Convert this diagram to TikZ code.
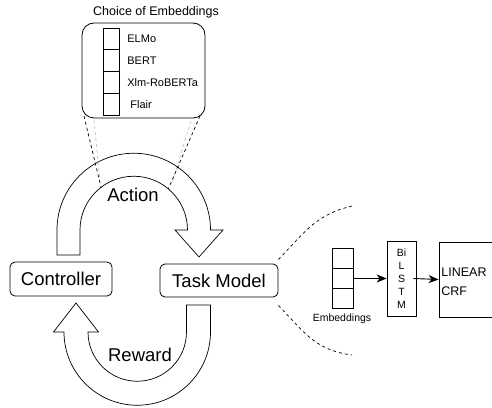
\documentclass[tikz,border=0pt]{standalone}
\usepackage{fontspec}
\setmainfont{Liberation Sans}
\usetikzlibrary{arrows.meta,calc}
\begin{document}
\begin{tikzpicture}[x=1pt,y=1pt,line width=0.8pt,
  bigtext/.style={font=\fontsize{18.5}{22}\selectfont},
  midtext/.style={font=\fontsize{12.5}{15}\selectfont},
  smalltext/.style={font=\fontsize{10.5}{13}\selectfont},
  choicetext/.style={font=\fontsize{11}{13}\selectfont, anchor=west, inner sep=0pt},
  roundbox/.style={draw, rounded corners=5pt, inner sep=0pt, bigtext},
  embcell/.style={draw, minimum width=16pt, minimum height=21.75pt, inner sep=0pt},
  stackcell/.style={draw, minimum width=21pt, minimum height=20pt, inner sep=0pt},
  zoomline/.style={dashed, dash pattern=on 3pt off 3pt},
  greyline/.style={zoomline, draw=black!25},
  bigarrow/.style={draw, fill=white, line width=0.7pt},
  flowarrow/.style={-{Stealth[length=10pt,width=8pt,inset=3pt]}, line width=0.9pt}
]
\useasboundingbox (0,0) rectangle (492,407);
\clip (0,0) rectangle (492,407);

% --- choice of embeddings panel ---
\node[midtext] (title) at (156,395) {Choice of Embeddings};
\node[draw, rounded corners=12pt, minimum width=123pt, minimum height=95pt, inner sep=0pt]
  (choices) at (143.5,336.5) {};
\node[embcell] (c1) at (111,368.125) {};
\node[embcell] (c2) at (111,346.375) {};
\node[embcell] (c3) at (111,324.625) {};
\node[embcell] (c4) at (111,302.875) {};
\node[choicetext] (elmo) at (127,368.1) {ELMo};
\node[choicetext] (bert) at (127,346.4) {BERT};
\node[choicetext] (xlmr) at (127,324.6) {Xlm-RoBERTa};
\node[choicetext] (flair) at (130,302.9) {Flair};

% --- action arrow (controller -> task model) ---
\coordinate (actc) at (133.75,177);
\path[bigarrow] (57,152) -- (57,177) arc[start angle=180, end angle=0, radius=76.75]
  -- (223,177) -- (199,150) -- (175,177) -- (187.5,177)
  arc[start angle=0, end angle=180, radius=53.75] -- (80,152) -- cycle;
\node[bigtext] (action) at (133,212) {Action};

% dashed guides from the panel down to the action arrow
\coordinate (al) at ($(actc)+(127.5:53.75)$);
\coordinate (ar) at ($(actc)+(50:53.75)$);
\coordinate (gl) at (100,226);
\coordinate (gr) at (172,224);
\coordinate (pl) at (84,291);
\coordinate (pr) at (200,291);
\coordinate (ql) at (94,287);
\coordinate (qr) at (191,286);
\draw[greyline, line width=0.7pt] (ql) -- (gl);
\draw[greyline, line width=0.7pt] (qr) -- (gr);
\draw[zoomline, line width=0.7pt] (pl) -- (al);
\draw[zoomline, line width=0.7pt] (pr) -- (ar);

% --- reward arrow (task model -> controller) ---
\path[bigarrow] (186.5,102) -- (186.5,75) arc[start angle=0, end angle=-180, radius=49.25]
  -- (98.5,75) -- (76,104) -- (53.5,75) -- (64,75)
  arc[start angle=180, end angle=360, radius=73.25] -- (210.5,102) -- cycle;
\node[bigtext] (reward) at (140,52) {Reward};

% --- main nodes ---
\node[roundbox, minimum width=102pt, minimum height=34pt] (controller) at (61,128) {Controller};
\node[roundbox, minimum width=118pt, minimum height=33pt] (task) at (219,126.5) {Task Model};

% --- task model detail ---
\coordinate (zu) at (352,201);
\coordinate (zd) at (352,52);
\draw[zoomline, line width=0.7pt] (task.north east) ++(0,4) .. controls (305,175) and (315,192) .. (zu);
\draw[zoomline, line width=0.7pt] (task.south east) ++(0,-8) .. controls (305,74) and (315,57) .. (zd);

\node[stackcell] (s1) at (342.5,149) {};
\node[stackcell] (s2) at (342.5,129) {};
\node[stackcell] (s3) at (342.5,109) {};
\node[smalltext] (emb) at (342,88) {Embeddings};

\node[draw, minimum width=29pt, minimum height=75pt, inner sep=0pt, align=center,
  font=\fontsize{10.5}{13}\selectfont] (bilstm) at (401.5,128.5) {Bi\\L\\S\\T\\M};
\node[draw, minimum width=62pt, minimum height=75pt, inner sep=0pt] (crf) at (470,127.5) {};
\node[midtext, anchor=west, inner sep=0pt] (lin) at (441,135) {LINEAR};
\node[midtext, anchor=west, inner sep=0pt] (crft) at (441,116) {CRF};

\draw[flowarrow] (s2.east |- bilstm.west) -- (bilstm.west);
\draw[flowarrow] ([xshift=-3pt]bilstm.east) -- (crf.west);
\end{tikzpicture}
\end{document}
